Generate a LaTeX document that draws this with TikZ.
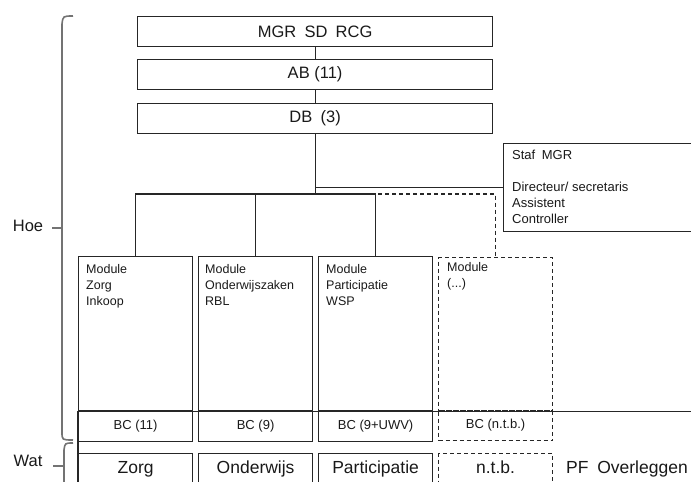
\documentclass[tikz,border=0pt]{standalone}
\usepackage{fontspec}
\setmainfont{Liberation Sans}
\newfontfamily\widefont[WordSpace=1.8]{Liberation Sans}
\begin{document}
\begin{tikzpicture}[x=1pt,y=-1pt,
  box/.style={draw=black!85, line width=1.2pt, inner sep=0pt, anchor=north west},
  dbox/.style={box, dash pattern=on 4pt off 3pt},
  conn/.style={draw=black!85, line width=1.2pt},
  dconn/.style={conn, dash pattern=on 4pt off 3pt},
  brace/.style={draw=black!55, line width=1.6pt},
  big/.style={font=\fontsize{16.5}{19}\selectfont, text=black!90},
  bigwide/.style={font=\widefont\fontsize{16.5}{19}\selectfont, text=black!90},
  huge/.style={font=\fontsize{17.5}{20}\selectfont, text=black!90, anchor=base, inner sep=0pt},
  modtxt/.style={font=\fontsize{12.5}{16}\selectfont, align=left, anchor=north west, inner sep=0pt, text=black!90},
  staftxt/.style={font=\fontsize{13}{16}\selectfont, align=left, anchor=north west, inner sep=0pt, text=black!90},
  bctxt/.style={font=\fontsize{13}{15}\selectfont, text=black!90}
]
\useasboundingbox (0,0) rectangle (691,482);
\clip (0,0) rectangle (691,482);

% top boxes
\node[box, minimum width=355pt, minimum height=30pt, bigwide] (mgr) at (137,16) {MGR SD RCG};
\node[box, minimum width=355pt, minimum height=30pt, big] (ab) at (137,59) {AB (11)};
\node[box, minimum width=355pt, minimum height=30pt, bigwide] (db) at (137,103) {DB (3)};

% staff box
\node[box, minimum width=200pt, minimum height=88pt] (staf) at (503,143) {};
\node[staftxt] (staft) at ([shift={(9,7)}]staf.north west)
  {{\widefont Staf MGR}\\[16pt]Directeur/ secretaris\\Assistent\\Controller};

% modules
\node[box, minimum width=114pt, minimum height=154pt] (m1) at (78,256) {};
\node[box, minimum width=114pt, minimum height=154pt] (m2) at (198,256) {};
\node[box, minimum width=114pt, minimum height=154pt] (m3) at (318,256) {};
\node[dbox, minimum width=114pt, minimum height=153pt] (m4) at (438,257) {};
\node[modtxt] (t1) at ([shift={(8,8)}]m1.north west) {Module\\Zorg\\Inkoop};
\node[modtxt] (t2) at ([shift={(7,8)}]m2.north west) {Module\\Onderwijszaken\\RBL};
\node[modtxt] (t3) at ([shift={(8,8)}]m3.north west) {Module\\Participatie\\WSP};
\node[modtxt] (t4) at ([shift={(9,5)}]m4.north west) {Module\\(...)};

% BC boxes
\node[box, minimum width=114pt, minimum height=30pt, bctxt] (b1) at (78,411) {BC (11)};
\node[box, minimum width=114pt, minimum height=30pt, bctxt] (b2) at (198,411) {BC (9)};
\node[box, minimum width=114pt, minimum height=30pt, bctxt] (b3) at (318,411) {BC (9+UWV)};
\node[dbox, minimum width=114pt, minimum height=30pt, bctxt] (b4) at (438,410) {\raisebox{2pt}{BC (n.t.b.)}};

% bottom row
\node[box, minimum width=114pt, minimum height=60pt] (z1) at (78,453) {};
\node[box, minimum width=114pt, minimum height=60pt] (z2) at (198,453) {};
\node[box, minimum width=114pt, minimum height=60pt] (z3) at (318,453) {};
\node[dbox, minimum width=114pt, minimum height=60pt] (z4) at (438,453) {};
\node[huge] (zt1) at ([shift={(0,20)}]z1.north) {Zorg};
\node[huge] (zt2) at ([shift={(0,20)}]z2.north) {Onderwijs};
\node[huge] (zt3) at ([shift={(0,20)}]z3.north) {Participatie};
\node[huge] (zt4) at ([shift={(0,20)}]z4.north) {n.t.b.};
\node[huge, font=\widefont\fontsize{17.5}{20}\selectfont] (pf) at (627,473) {PF Overleggen};

% connectors
\coordinate (j) at (db.south |- 0,194);
\coordinate (re) at (700,410);
\draw[conn] (mgr.south) -- (ab.north);
\draw[conn] (ab.south) -- (db.north);
\draw[conn] (db.south) -- (j);
\draw[conn] (db.south |- staf.west) -- (staf.west);
\draw[dconn] (j) -- (m4.north |- j) -- (m4.north);
\draw[conn] (m1.north) -- (m1.north |- j) -- (m3.north |- j) -- (m3.north);
\draw[conn] (m2.north |- j) -- (m2.north);
\draw[conn] (m1.south west) -- (m1.south west -| re);
\draw[conn, line width=2pt] (b1.north west) -- (z1.south west);

% braces
\draw[brace] (73,16) .. controls (63,16) .. (62,24) -- (62,432) .. controls (62,440) .. (73,440);
\draw[brace] (52,228) -- (62,228);
\draw[brace] (73,443) .. controls (65,443) .. (64,450) -- (64,490);
\draw[brace] (53,466) -- (64,466);
\node[big] (hoe) at (28,226) {Hoe};
\node[big] (wat) at (28,461) {Wat};
\end{tikzpicture}
\end{document}
